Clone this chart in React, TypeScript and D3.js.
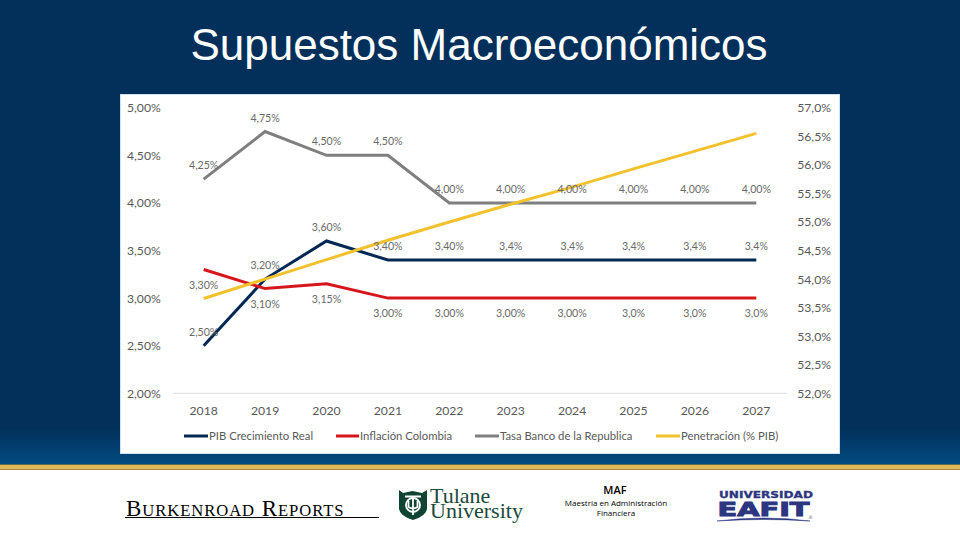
import React from "react";
import * as d3 from "d3";

const years = ["2018", "2019", "2020", "2021", "2022", "2023", "2024", "2025", "2026", "2027"];
const pib = [2.5, 3.2, 3.6, 3.4, 3.4, 3.4, 3.4, 3.4, 3.4, 3.4];
const inflacion = [3.3, 3.1, 3.15, 3.0, 3.0, 3.0, 3.0, 3.0, 3.0, 3.0];
const tasa = [4.25, 4.75, 4.5, 4.5, 4.0, 4.0, 4.0, 4.0, 4.0, 4.0];
const penetracion = [53.66, 54.0, 54.34, 54.68, 55.0, 55.31, 55.61, 55.93, 56.24, 56.55];

const pibLabels = ["2,50%", "3,20%", "3,60%", "3,40%", "3,40%", "3,4%", "3,4%", "3,4%", "3,4%", "3,4%"];
const inflacionLabels = ["3,30%", "3,10%", "3,15%", "3,00%", "3,00%", "3,00%", "3,00%", "3,0%", "3,0%", "3,0%"];
const tasaLabels = ["4,25%", "4,75%", "4,50%", "4,50%", "4,00%", "4,00%", "4,00%", "4,00%", "4,00%", "4,00%"];

const leftTicks = [2, 2.5, 3, 3.5, 4, 4.5, 5];
const rightTicks = [52, 52.5, 53, 53.5, 54, 54.5, 55, 55.5, 56, 56.5, 57];

const NAVY = "#002855";
const RED = "#d7161c";
const GRAY = "#7f7f7f";
const YELLOW = "#f2c12e";
const TEXT = "#595959";
const CHART_FONT = "Lato, sans-serif";

const x = d3.scaleBand<string>().domain(years).range([173, 787]);
const xc = (i: number) => (x(years[i]) as number) + x.bandwidth() / 2;
const yLeft = d3.scaleLinear().domain([2, 5]).range([393.3, 107.7]);
const yRight = d3.scaleLinear().domain([52, 57]).range([393.3, 107.7]);

const leftLine = d3.line<number>().x((_, i) => xc(i)).y((d) => yLeft(d));
const rightLine = d3.line<number>().x((_, i) => xc(i)).y((d) => yRight(d));

const comma = (v: number, digits: number) => v.toFixed(digits).replace(".", ",");

const legend = [
  { label: "PIB Crecimiento Real", color: NAVY, x0: 184, x1: 208, tx: 209 },
  { label: "Inflación Colombia", color: RED, x0: 336, x1: 359, tx: 360 },
  { label: "Tasa Banco de la Republica", color: GRAY, x0: 475, x1: 499, tx: 500 },
  { label: "Penetración (% PIB)", color: YELLOW, x0: 656, x1: 680, tx: 681 },
];

const DataLabels = ({ labels, values, dy }: { labels: string[]; values: number[]; dy: number }) => (
  <g fontFamily={CHART_FONT} fontSize={10.6} fill="#6a6a6a" textAnchor="middle">
    {labels.map((l, i) => (
      <text key={i} x={xc(i)} y={yLeft(values[i]) + dy}>
        {l}
      </text>
    ))}
  </g>
);

export default function App() {
  return (
    <div style={{ position: "fixed", left: 0, top: 0 }}>
      <svg width={960} height={540} viewBox="0 0 960 540" style={{ display: "block" }}>
        <defs>
          <linearGradient id="bg" x1="0" y1="0" x2="0" y2="1">
            <stop offset="0" stopColor="#02305a" />
            <stop offset="0.92" stopColor="#02305a" />
            <stop offset="1" stopColor="#024b82" />
          </linearGradient>
        </defs>
        <rect width={960} height={540} fill="#fff" />
        <rect width={960} height={465} fill="url(#bg)" />
        <rect y={465} width={960} height={4} fill="#e0b95c" />
        <rect y={464} width={960} height={1} fill="#5d6a4e" />
        <rect y={469} width={960} height={1} fill="#a98a3a" />

        <text x={479} y={60} textAnchor="middle" fontFamily="'Liberation Sans', sans-serif" fontSize={44} fill="#fff">
          Supuestos Macroeconómicos
        </text>

        <rect x={120.5} y={94.5} width={719} height={359} fill="#fff" stroke="#cfe2f3" />

        <line x1={173} x2={787} y1={393.3} y2={393.3} stroke="#d9d9d9" />

        <g fontFamily={CHART_FONT} fontSize={12.2} fill={TEXT}>
          {leftTicks.map((t) => (
            <text key={t} x={127} y={yLeft(t) + 4.5}>
              {comma(t, 2)}%
            </text>
          ))}
          {rightTicks.map((t) => (
            <text key={t} x={831} y={yRight(t) + 4.5} textAnchor="end">
              {comma(t, 1)}%
            </text>
          ))}
          {years.map((y, i) => (
            <text key={y} x={xc(i)} y={415} textAnchor="middle">
              {y}
            </text>
          ))}
        </g>

        <path d={leftLine(tasa) as string} fill="none" stroke={GRAY} strokeWidth={3} />
        <path d={leftLine(pib) as string} fill="none" stroke={NAVY} strokeWidth={3} />
        <path d={leftLine(inflacion) as string} fill="none" stroke={RED} strokeWidth={3} />
        <path d={rightLine(penetracion) as string} fill="none" stroke={YELLOW} strokeWidth={3} />

        <DataLabels labels={tasaLabels} values={tasa} dy={-10} />
        <DataLabels labels={pibLabels} values={pib} dy={-10} />
        <DataLabels labels={inflacionLabels} values={inflacion} dy={19} />

        <g fontFamily={CHART_FONT} fontSize={11.3} fill={TEXT}>
          {legend.map((d) => (
            <g key={d.label}>
              <line x1={d.x0} x2={d.x1} y1={436} y2={436} stroke={d.color} strokeWidth={3} />
              <text x={d.tx} y={440}>
                {d.label}
              </text>
            </g>
          ))}
        </g>

        {/* footer */}
        <text x={126} y={515.5} fontFamily="'Liberation Serif', serif" fill="#000" fontSize={23} letterSpacing={0.95}>
          B<tspan fontSize={16.6}>URKENROAD</tspan> R<tspan fontSize={16.6}>EPORTS</tspan>
        </text>
        <line x1={125} x2={379} y1={517.5} y2={517.5} stroke="#000" strokeWidth={1} />

        <path d="M399 490 L403 493 L412.5 491 L422 493 L427 490 L427 509 Q426 516 413 520 Q400 516 399 509 Z" fill="#0f4433" />
        <circle cx={413} cy={505} r={7} fill="none" stroke="#fff" strokeWidth={1.8} />
        <path d="M405 496.5 H421 M413 496.5 V515 M408.5 501 V507 Q413 510 417.5 507 V501" fill="none" stroke="#fff" strokeWidth={1.8} />
        <g fontFamily="'Liberation Serif', serif" fontSize={22} fill="#1a4a3a">
          <text x={430} y={503}>Tulane</text>
          <text x={430} y={518}>University</text>
        </g>

        <g textAnchor="middle" fontFamily="'Open Sans', sans-serif" fill="#000">
          <text x={615} y={494} fontSize={11} fontWeight={600}>MAF</text>
          <text x={616} y={506} fontSize={8}>Maestría en Administración</text>
          <text x={616} y={516} fontSize={8}>Financiera</text>
        </g>

        <g textAnchor="middle" fontFamily="'DejaVu Sans', sans-serif" fontWeight={700} fill="#2b3580" stroke="#2b3580">
          <text x={766} y={498} fontSize={9} strokeWidth={0.3} textLength={94} lengthAdjust="spacingAndGlyphs">UNIVERSIDAD</text>
          <text x={763.5} y={516} fontSize={20} strokeWidth={1} textLength={92} lengthAdjust="spacingAndGlyphs">EAFIT</text>
        </g>
        <text x={808} y={519} fontFamily="'DejaVu Sans', sans-serif" fontSize={5} fill="#777">®</text>
        <path d="M717 521 Q765 515 810 521 Q765 518 717 521 Z" fill="#2b3580" stroke="#2b3580" strokeWidth={0.5} />
      </svg>
    </div>
  );
}
